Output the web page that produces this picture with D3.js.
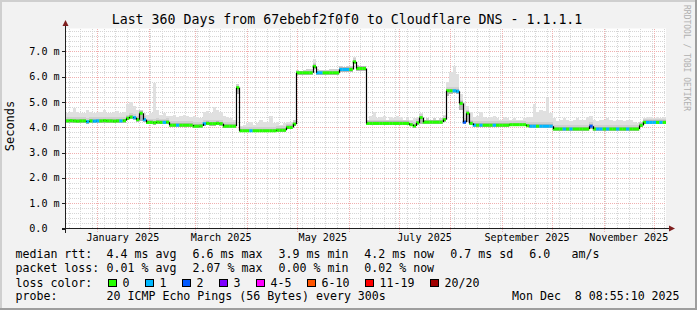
<!DOCTYPE html>
<html><head><meta charset="utf-8">
<script src="https://cdn.jsdelivr.net/npm/d3@7"></script>
<style>html,body{margin:0;padding:0;background:#f2f2f2;overflow:hidden}</style>
</head><body><svg id="c" width="697" height="310"></svg>
<script>
const title = "Last 360 Days from 67ebebf2f0f0 to Cloudflare DNS - 1.1.1.1";
const endTime = "2025-12-08T08:55:10Z";
const spanDays = 360;
const binDays = 2;
const median = [
4.25,4.26,4.25,4.24,4.25,4.25,4.22,4.25,4.24,4.25,4.25,4.26,4.25,4.25,4.24,4.25,4.25,4.26,4.35,4.40,
4.38,4.30,4.55,4.30,4.19,4.19,4.18,4.20,4.19,4.19,4.20,4.08,4.08,4.08,4.08,4.08,4.08,4.08,4.04,4.04,
4.05,4.14,4.15,4.14,4.14,4.15,4.14,4.04,4.04,4.04,4.04,5.56,3.86,3.86,3.86,3.86,3.86,3.86,3.86,3.86,
3.86,3.86,3.86,3.88,3.88,3.88,3.99,3.99,4.12,6.15,6.15,6.15,6.15,6.15,6.40,6.15,6.15,6.15,6.15,6.15,
6.15,6.15,6.28,6.28,6.28,6.28,6.58,6.32,6.32,6.32,4.15,4.15,4.15,4.15,4.15,4.15,4.15,4.15,4.15,4.15,
4.15,4.15,4.15,4.10,4.05,4.17,4.38,4.20,4.20,4.20,4.20,4.20,4.20,4.30,5.44,5.44,5.44,5.42,4.94,4.20,
4.55,4.15,4.08,4.08,4.08,4.08,4.08,4.08,4.08,4.08,4.08,4.08,4.08,4.10,4.10,4.10,4.10,4.10,4.06,4.04,
4.04,4.04,4.04,4.04,4.04,4.04,3.93,3.93,3.93,3.93,3.93,3.93,3.93,3.93,3.93,3.93,3.93,4.04,3.93,3.93,
3.93,3.93,3.93,3.93,3.93,3.93,3.93,3.93,3.93,3.93,3.93,3.93,4.07,4.19,4.19,4.19,4.19,4.19,4.19,4.19];
const smokeHi = [
4.55,4.60,4.75,4.60,4.55,4.58,4.68,4.60,4.55,4.62,4.60,4.70,4.58,4.55,4.60,4.65,4.55,4.60,4.90,5.00,
4.85,4.70,4.70,4.55,4.50,4.55,5.75,4.70,4.50,4.55,4.45,4.45,4.50,4.40,4.45,4.50,4.45,4.40,4.45,4.40,
4.35,4.60,4.65,4.55,4.80,4.70,4.60,4.45,4.40,4.35,4.30,5.72,4.05,4.10,4.15,4.20,4.10,4.15,4.28,4.20,
4.20,4.45,4.15,4.20,4.10,4.15,4.20,4.20,4.30,6.25,6.22,6.25,6.30,6.30,6.68,6.30,6.25,6.25,6.28,6.30,
6.32,6.30,6.40,6.38,6.40,6.42,6.76,6.45,6.42,6.40,4.30,4.45,4.60,4.35,4.40,4.45,4.30,4.40,4.35,4.45,
4.40,4.30,4.35,4.30,4.35,4.40,4.55,4.30,4.35,4.30,4.35,4.30,4.35,4.50,5.80,6.20,6.40,6.10,5.30,5.00,
4.85,4.60,4.40,4.45,4.60,4.40,4.35,4.40,4.45,4.35,4.30,4.40,4.35,4.30,4.35,4.30,4.30,4.35,4.40,4.40,
4.90,4.60,4.70,4.65,5.14,4.55,4.35,4.25,4.30,4.35,4.30,4.25,4.30,4.35,4.30,4.30,4.40,4.45,4.30,4.25,
4.30,4.30,4.35,4.30,4.25,4.30,4.30,4.25,4.30,4.30,4.20,4.15,4.20,4.35,4.40,4.40,4.38,4.40,4.35,4.40];
const smokeLo = [
4.17,4.18,4.17,4.16,4.17,4.17,4.14,4.17,4.16,4.17,4.17,4.18,4.17,4.17,4.16,4.17,4.17,4.18,4.27,4.32,
4.30,4.22,4.24,4.22,4.11,4.11,4.10,4.12,4.11,4.11,4.12,4.00,4.00,4.00,4.00,4.00,4.00,4.00,3.96,3.96,
3.97,4.06,4.07,4.06,4.06,4.07,4.06,3.96,3.96,3.96,3.96,5.30,3.80,3.80,3.80,3.80,3.80,3.80,3.80,3.80,
3.80,3.80,3.80,3.82,3.82,3.82,3.92,3.92,4.05,6.08,6.08,6.08,6.08,6.08,6.30,6.08,6.08,6.08,6.08,6.08,
6.08,6.08,6.20,6.20,6.20,6.20,6.48,6.24,6.24,6.24,4.08,4.08,4.08,4.08,4.08,4.08,4.08,4.08,4.08,4.08,
4.08,4.08,4.08,4.03,3.98,4.10,4.12,4.13,4.13,4.13,4.13,4.13,4.13,4.22,5.25,5.32,5.34,5.30,4.70,4.12,
4.20,4.08,4.01,4.01,4.01,4.01,4.01,4.01,4.01,4.01,4.01,4.01,4.01,4.03,4.03,4.03,4.03,4.03,3.99,3.97,
3.97,3.97,3.97,3.97,3.97,3.97,3.86,3.86,3.86,3.86,3.86,3.86,3.86,3.86,3.86,3.86,3.86,3.95,3.86,3.86,
3.86,3.86,3.86,3.86,3.86,3.86,3.86,3.86,3.86,3.86,3.86,3.86,4.00,4.12,4.12,4.12,4.12,4.12,4.12,4.12];
const loss = [
0,0,0,0,0,0,1,0,1,1,0,0,0,0,0,0,1,0,0,0,
1,0,0,1,0,0,0,0,0,1,0,0,0,1,0,0,0,0,0,0,
0,1,0,0,0,0,0,0,0,0,0,0,0,0,0,1,0,0,0,0,
0,0,0,0,0,0,0,0,0,0,0,0,0,0,0,1,1,0,0,0,
0,0,1,1,1,0,0,0,0,0,0,0,0,0,0,0,0,0,0,0,
0,0,0,0,0,0,0,0,0,0,0,0,0,0,0,0,1,1,0,2,
0,0,1,0,1,0,0,0,1,0,0,0,0,0,0,0,0,0,0,1,
1,0,1,1,1,1,0,0,0,1,0,1,0,0,0,0,0,2,0,1,
1,0,1,0,0,1,0,0,1,0,0,0,0,0,1,1,1,0,1,0];
const yTicks = [0,1,2,3,4,5,6,7];
const yTickLabels = ["0.0","1.0 m","2.0 m","3.0 m","4.0 m","5.0 m","6.0 m","7.0 m"];
const yMax = 7.9;
const lossLabels = ["0","1","2","3","4-5","6-10","11-19","20/20"];
const lossUpper = [0,1,2,3,5,10,19,20];
const lossColors = ["#26ff00","#00b8ff","#0059ff","#7e00ff","#ff00ff","#ff5500","#ff0000","#a00000"];
const rttStats = ["4.4 ms avg","6.6 ms max","3.9 ms min","4.2 ms now","0.7 ms sd"];
const lossStats = ["0.01 % avg","2.07 % max","0.00 % min","0.02 % now"];
const ampsValue = "6.0";
const ampsUnit = "am/s";
const probeText = "20 ICMP Echo Pings (56 Bytes) every 300s";
const dateText = "Mon Dec  8 08:55:10 2025";
const yAxisTitle = "Seconds";
const watermark = "RRDTOOL / TOBI OETIKER";

const W = 697, H = 310;
const mono = "'DejaVu Sans Mono', monospace";
const L = 66, R = 666, T = 28.5, B = 228.5;
const svg = d3.select("#c");
const end = new Date(endTime);
const start = new Date(+end - spanDays * 864e5);
const x = d3.scaleUtc().domain([start, end]).range([L, R]);
const y = d3.scaleLinear().domain([0, yMax]).range([B, T]);
const keepSpaces = s => s.replace(/ /g, "\u00a0");

svg.append("rect").attr("width", W).attr("height", H).attr("fill", "#f2f2f2");
svg.append("path").attr("d", "M0,0H697V2H2V310H0Z").attr("fill", "#cfcfcf");
svg.append("path").attr("d", "M697,0V310H0V308H695V0Z").attr("fill", "#9e9e9e");
svg.append("rect").attr("x", L).attr("y", T).attr("width", R - L).attr("height", B - T).attr("fill", "#fff");

// grid
const grid = svg.append("g").attr("shape-rendering", "crispEdges");
const minorY = d3.range(1, Math.floor(yMax / 0.2) + 1).map(k => k * 0.2).filter(v => Math.abs(v - Math.round(v)) > 1e-6);
grid.selectAll(".hmin").data(minorY).join("line")
  .attr("x1", L).attr("x2", R).attr("y1", d => Math.round(y(d)) + 0.5).attr("y2", d => Math.round(y(d)) + 0.5)
  .attr("stroke", "#d6d6d6").attr("stroke-dasharray", "1,1");
const weeks = d3.utcSunday.range(start, end);
grid.selectAll(".vmin").data(weeks).join("line")
  .attr("x1", d => Math.round(x(d)) + 0.5).attr("x2", d => Math.round(x(d)) + 0.5).attr("y1", T).attr("y2", B)
  .attr("stroke", "#d6d6d6").attr("stroke-dasharray", "1,1");
grid.selectAll(".hmaj").data(yTicks.slice(1)).join("line")
  .attr("x1", L).attr("x2", R).attr("y1", d => Math.round(y(d)) + 0.5).attr("y2", d => Math.round(y(d)) + 0.5)
  .attr("stroke", "#f0b0b0").attr("stroke-dasharray", "1,1");
const months = d3.utcMonth.range(start, end);
grid.selectAll(".vmaj").data(months).join("line")
  .attr("x1", d => Math.round(x(d)) + 0.5).attr("x2", d => Math.round(x(d)) + 0.5).attr("y1", T).attr("y2", B + 3)
  .attr("stroke", "#f0b0b0").attr("stroke-dasharray", "1,1");

// data bins
const bins = median.map((m, i) => ({
  t0: new Date(+start + i * binDays * 864e5),
  t1: new Date(+start + (i + 1) * binDays * 864e5),
  m, hi: smokeHi[i], lo: smokeLo[i], loss: loss[i]
}));
const smoke = svg.append("g").attr("shape-rendering", "crispEdges");
const band = (cls, col, topFn) => smoke.selectAll("." + cls).data(bins).join("rect")
  .attr("x", d => x(d.t0)).attr("width", d => x(d.t1) - x(d.t0))
  .attr("y", d => y(topFn(d))).attr("height", d => y(d.lo) - y(topFn(d)))
  .attr("fill", col);
band("s1", "#e0e0e0", d => d.hi);
band("s2", "#d0d0d0", d => Math.min(d.hi, d.m + 0.15));
band("s3", "#b6b6b6", d => Math.min(d.hi, d.m + 0.08));

// median colored by loss
const colorFor = n => lossColors[lossUpper.findIndex(u => n <= u)];
svg.append("g").selectAll("line").data(bins).join("line")
  .attr("x1", d => x(d.t0)).attr("x2", d => x(d.t1))
  .attr("y1", d => y(d.m)).attr("y2", d => y(d.m))
  .attr("stroke", d => colorFor(d.loss)).attr("stroke-width", 3);
// black transitions
const steps = bins.slice(1).map((d, i) => ({ t: d.t0, a: bins[i].m, b: d.m })).filter(s => s.a !== s.b);
svg.append("g").selectAll("line").data(steps).join("line")
  .attr("x1", d => Math.round(x(d.t)) + 0.5).attr("x2", d => Math.round(x(d.t)) + 0.5)
  .attr("y1", d => y(d.a)).attr("y2", d => y(d.b))
  .attr("stroke", "#000").attr("stroke-width", 1.2);

// axes
const ax = svg.append("g").attr("shape-rendering", "crispEdges");
ax.append("line").attr("x1", 62).attr("x2", 670).attr("y1", B).attr("y2", B).attr("stroke", "#1f1f1f");
ax.append("line").attr("x1", L - 0.5).attr("x2", L - 0.5).attr("y1", B + 4).attr("y2", 25).attr("stroke", "#1f1f1f");
ax.selectAll(".yt").data(yTicks).join("line")
  .attr("x1", L - 4).attr("x2", L).attr("y1", d => Math.round(y(d)) + 0.5).attr("y2", d => Math.round(y(d)) + 0.5)
  .attr("stroke", "#1f1f1f");
svg.append("path").attr("d", `M${L - 3.5},26L${L + 2.5},26L${L - 0.5},20Z`).attr("fill", "#7f1f1f");
svg.append("path").attr("d", `M669,${B - 3}L669,${B + 3}L675,${B}Z`).attr("fill", "#7f1f1f");

// y labels
svg.append("g").selectAll("text").data(yTicks).join("text")
  .attr("x", 29.3).attr("y", d => y(d) + 3.6)
  .attr("font-family", mono).attr("font-size", 10.1).attr("fill", "#000")
  .text((d, i) => yTickLabels[i]);
// x labels at month mid
const labelMonths = months.filter(m => m.getUTCMonth() % 2 === 0);
svg.append("g").selectAll("text").data(labelMonths).join("text")
  .attr("x", d => x(new Date((+d + +d3.utcMonth.offset(d, 1)) / 2))).attr("y", 241.3)
  .attr("text-anchor", "middle").attr("font-family", mono).attr("font-size", 10.1)
  .text(d => d3.utcFormat("%B %Y")(d));

// title
svg.append("text").attr("x", 347).attr("y", 23.5).attr("text-anchor", "middle")
  .attr("font-family", mono).attr("font-size", 13.25).text(title);
// y-axis title
svg.append("text").attr("transform", "translate(13.5,126) rotate(-90)").attr("text-anchor", "middle")
  .attr("font-family", mono).attr("font-size", 12).text(yAxisTitle);
// watermark
svg.append("text").attr("transform", "translate(684,5) rotate(90)")
  .attr("font-family", mono).attr("font-size", 8).attr("fill", "#b0b0b0").text(watermark);

// legend
const fs = 11.6;
const lg = svg.append("g").attr("font-family", mono).attr("font-size", fs).attr("fill", "#000");
const rows = [258.3, 272.3, 286.5, 299.8];
const statX = [106.6, 192.6, 278.6, 364.3, 450.3];
lg.append("text").attr("x", 15.5).attr("y", rows[0]).text("median rtt:");
rttStats.forEach((s, i) => lg.append("text").attr("x", statX[i]).attr("y", rows[0]).text(s));
lg.append("text").attr("x", 529.3).attr("y", rows[0]).text(ampsValue);
lg.append("text").attr("x", 571.6).attr("y", rows[0]).text(ampsUnit);
lg.append("text").attr("x", 15.5).attr("y", rows[1]).text("packet loss:");
lossStats.forEach((s, i) => lg.append("text").attr("x", statX[i]).attr("y", rows[1]).text(s));
lg.append("text").attr("x", 15.5).attr("y", rows[2]).text("loss color:");
let bx = 108;
lossLabels.forEach((lab, i) => {
  lg.append("rect").attr("x", bx + 0.5).attr("y", 279.5).attr("width", 8).attr("height", 7)
    .attr("fill", lossColors[i]).attr("stroke", "#000").attr("stroke-width", 1).attr("shape-rendering", "crispEdges");
  lg.append("text").attr("x", bx + 14.5).attr("y", rows[2]).text(lab);
  bx = bx + 15 + lab.length * 7 + 15;
});
lg.append("text").attr("x", 15.5).attr("y", rows[3]).text("probe:");
lg.append("text").attr("x", statX[0]).attr("y", rows[3]).text(probeText);
lg.append("text").attr("x", 512).attr("y", rows[3]).text(keepSpaces(dateText));
</script></body></html>
